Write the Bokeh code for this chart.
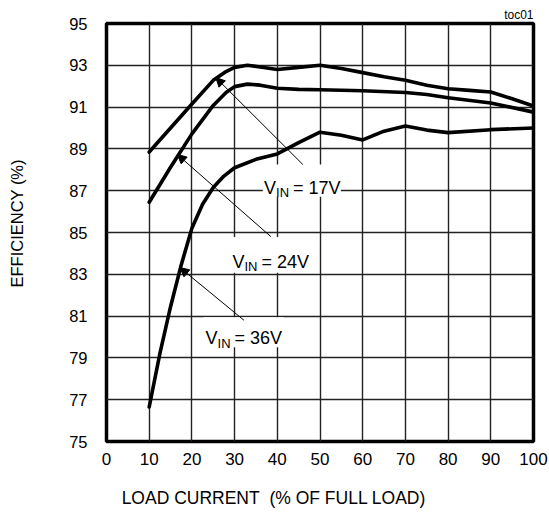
from bokeh.plotting import figure
from bokeh.models import Label, Arrow, NormalHead, FixedTicker, Range1d, Title
from bokeh.embed import file_html
from bokeh.resources import INLINE

FONT = "Liberation Sans"
NB = "\u00a0"

# ---- data ----
x_17 = [10, 15, 20, 25, 28, 30, 33, 36, 40, 45, 50, 55, 60, 65, 70, 75, 80, 85, 90, 95, 100]
y_17 = [88.85, 90.0, 91.15, 92.28, 92.7, 92.9, 93.0, 92.92, 92.8, 92.9, 93.0, 92.85, 92.65, 92.45, 92.28, 92.05, 91.88, 91.8, 91.72, 91.4, 91.05]

x_24 = [10, 15, 20, 25, 28, 30, 33, 36, 40, 45, 50, 60, 70, 75, 80, 90, 100]
y_24 = [86.45, 88.12, 89.72, 91.08, 91.7, 91.98, 92.1, 92.05, 91.9, 91.85, 91.83, 91.78, 91.7, 91.6, 91.45, 91.2, 90.76]

x_36 = [10, 12.5, 15, 17.5, 20, 22.5, 25, 27.5, 30, 35, 40, 45, 50, 55, 60, 65, 70, 75, 80, 90, 100]
y_36 = [76.65, 79.2, 81.45, 83.45, 85.2, 86.35, 87.15, 87.7, 88.1, 88.5, 88.76, 89.3, 89.8, 89.65, 89.43, 89.85, 90.1, 89.9, 89.78, 89.92, 90.0]

x_ticks = list(range(0, 101, 10))
y_ticks = list(range(75, 96, 2))

x_title = "LOAD CURRENT" + NB + " (% OF FULL LOAD)"
y_title = "EFFICIENCY (%)"

# annotation labels: (voltage text, x, y of text start/baseline)
label_texts = ["= 17V", "= 24V", "= 36V"]
label_x = [36.9, 29.5, 23.2]
label_y = [87.13, 83.61, 79.93]
# white boxes behind labels
box_left = [36.6, 29.1, 22.7]
box_right = [54.9, 47.4, 41.5]
box_bottom = [86.71, 83.07, 79.51]
box_top = [88.25, 84.79, 80.95]
# arrows (tail -> head)
arr_x0 = [46.0, 38.5, 32.2]
arr_y0 = [88.25, 84.8, 80.8]
arr_x1 = [25.6, 16.6, 17.2]
arr_y1 = [92.41, 88.73, 83.32]

p = figure(width=549, height=516, x_range=Range1d(0, 100), y_range=Range1d(75, 95),
           output_backend="svg", toolbar_location=None,
           min_border_left=106, min_border_right=16, min_border_top=23, min_border_bottom=75)
p.background_fill_color = "white"
p.border_fill_color = "white"
p.outline_line_color = "black"
p.outline_line_width = 3.5
p.outline_line_alpha = 1.0

p.xaxis.ticker = FixedTicker(ticks=x_ticks)
p.yaxis.ticker = FixedTicker(ticks=y_ticks)
for ax in (p.xaxis, p.yaxis):
    ax.axis_line_color = None
    ax.major_tick_line_color = None
    ax.minor_tick_line_color = None
    ax.major_tick_out = 0
    ax.major_tick_in = 0
    ax.major_label_text_font = FONT
    ax.major_label_text_color = "black"
    ax.axis_label_text_font = FONT
    ax.axis_label_text_font_style = "normal"
    ax.axis_label_text_color = "black"
p.xaxis.major_label_text_font_size = "17px"
p.yaxis.major_label_text_font_size = "16.5px"
p.xaxis.major_label_standoff = 11
p.yaxis.major_label_standoff = 19

# padding with no-break spaces shifts the titles off-centre, as in the reference
p.xaxis.axis_label = x_title + NB * 19
p.xaxis.axis_label_text_font_size = "17.5px"
p.xaxis.axis_label_standoff = 20
p.yaxis.axis_label = NB * 4 + y_title
p.yaxis.axis_label_text_font_size = "16.5px"
p.yaxis.axis_label_standoff = 40

for g in (p.xgrid, p.ygrid):
    g.grid_line_color = "#222222"
    g.grid_line_width = 1.4
    g.grid_line_alpha = 1.0

# white boxes behind labels
p.quad(left=box_left, right=box_right, bottom=box_bottom, top=box_top,
       fill_color="white", line_color=None)

for xs, ys in ((x_17, y_17), (x_24, y_24), (x_36, y_36)):
    p.line(xs, ys, line_color="black", line_width=3.6, line_join="round", line_cap="round")

for i in range(3):
    p.add_layout(Arrow(end=NormalHead(size=9, fill_color="black", line_color="black", line_width=1),
                       x_start=arr_x0[i], y_start=arr_y0[i], x_end=arr_x1[i], y_end=arr_y1[i],
                       line_color="black", line_width=1))
    p.add_layout(Label(x=label_x[i], y=label_y[i], text="V", text_font=FONT,
                       text_font_size="18px", text_baseline="alphabetic", text_color="black"))
    p.add_layout(Label(x=label_x[i], y=label_y[i], x_offset=12, y_offset=-5, text="IN", text_font=FONT,
                       text_font_size="13px", text_baseline="alphabetic", text_color="black"))
    p.add_layout(Label(x=label_x[i], y=label_y[i], x_offset=29, text=label_texts[i], text_font=FONT,
                       text_font_size="18px", text_baseline="alphabetic", text_color="black"))

p.add_layout(Title(text="toc01", align="right", text_font=FONT, text_font_size="12px",
                   text_font_style="normal", text_color="black", standoff=4), "above")

open("out.html", "w").write(file_html(p, INLINE))
